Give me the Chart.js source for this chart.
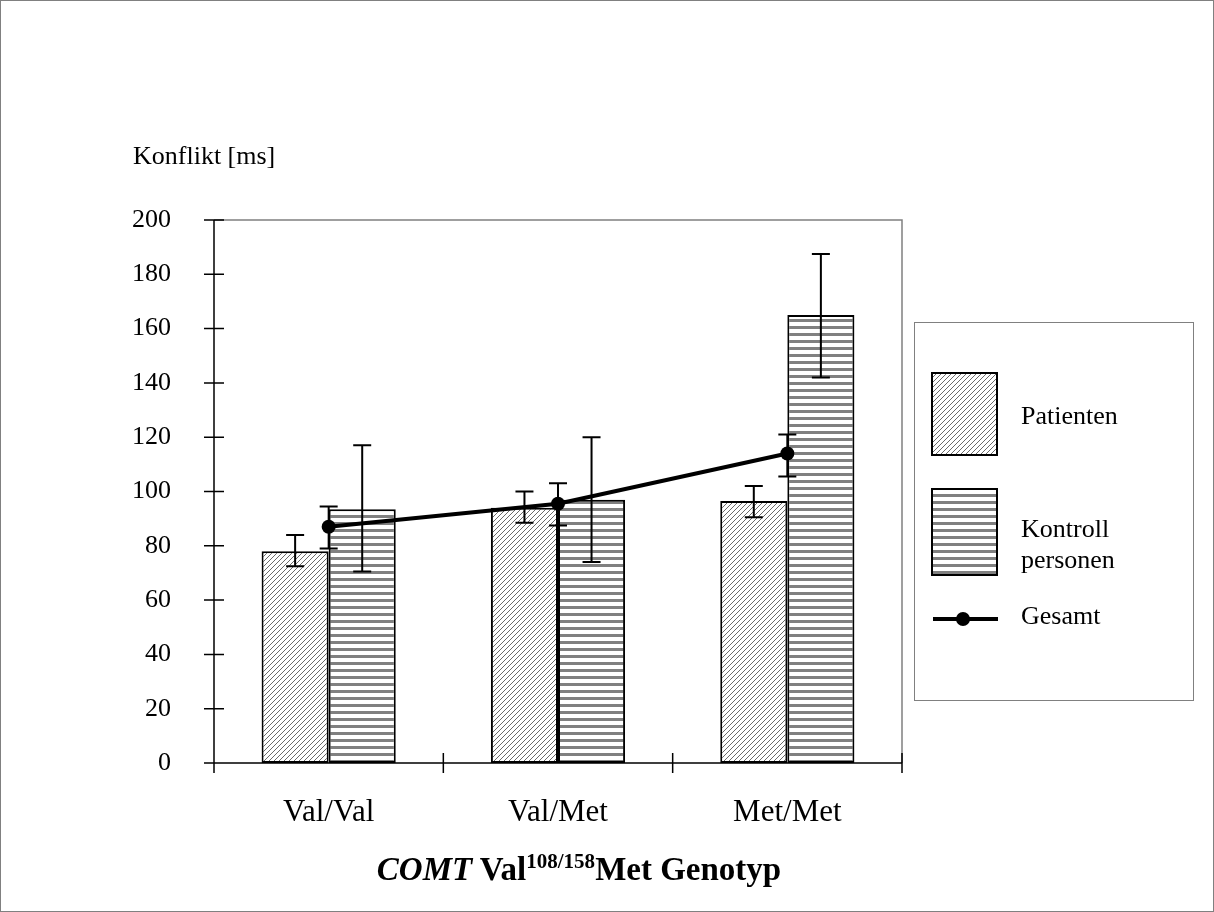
<!DOCTYPE html>
<html>
<head>
<meta charset="utf-8">
<script src="https://cdn.jsdelivr.net/npm/chart.js@4.4.0/dist/chart.umd.min.js"></script>
<style>
body { margin: 0; background: #fff; }
#wrap { position: relative; width: 1214px; height: 912px; }
#xtitle {
    position: absolute; left: 279px; width: 600px; top: 850px;
    text-align: center; font: bold 33px "Liberation Serif", serif; color: #000;
    line-height: 38px;
}
#xtitle sup { font-size: 21px; vertical-align: 0; position: relative; top: -12px; }
</style>
</head>
<body>
<div id="wrap">
<canvas id="chart" width="1214" height="912"></canvas>
<div id="xtitle"><i>COMT</i> Val<sup>108/158</sup>Met Genotyp</div>
</div>
<script>
const genotypes = ['Val/Val', 'Val/Met', 'Met/Met'];
const yTicks = [0, 20, 40, 60, 80, 100, 120, 140, 160, 180, 200];

const patienten = [78, 94, 96.5];
const patientenLow = [72.5, 88.5, 90.5];
const patientenHigh = [84, 100, 102];

const kontroll = [93.5, 97, 165];
const kontrollLow = [70.5, 74, 142];
const kontrollHigh = [117, 120, 187.5];

const gesamt = [87, 95.5, 114];
const gesamtLow = [79, 87.5, 105.5];
const gesamtHigh = [94.5, 103, 121];

const FONT = '"Liberation Serif", "Times New Roman", serif';

function hatchPattern(ctx) {
    const c = document.createElement('canvas');
    c.width = 5; c.height = 5;
    const g = c.getContext('2d');
    g.fillStyle = '#fff';
    g.fillRect(0, 0, 5, 5);
    g.strokeStyle = '#6a6a6a';
    g.lineWidth = 1;
    g.beginPath();
    g.moveTo(0, 5); g.lineTo(5, 0);
    g.moveTo(-1, 1); g.lineTo(1, -1);
    g.moveTo(4, 6); g.lineTo(6, 4);
    g.stroke();
    return ctx.createPattern(c, 'repeat');
}

function stripePattern(ctx) {
    const c = document.createElement('canvas');
    c.width = 4; c.height = 7;
    const g = c.getContext('2d');
    g.fillStyle = '#fff';
    g.fillRect(0, 0, 4, 7);
    g.fillStyle = '#808080';
    g.fillRect(0, 4, 4, 3);
    return ctx.createPattern(c, 'repeat');
}

const canvas = document.getElementById('chart');
const ctx = canvas.getContext('2d');
const hatch = hatchPattern(ctx);
const stripes = stripePattern(ctx);

function errBar(g, x, yLo, yHi, cap) {
    g.beginPath();
    g.moveTo(x, yLo); g.lineTo(x, yHi);
    g.moveTo(x - cap, yLo); g.lineTo(x + cap, yLo);
    g.moveTo(x - cap, yHi); g.lineTo(x + cap, yHi);
    g.stroke();
}

// axes frame, ticks, error bars, legend and y title
const decorations = {
    id: 'decorations',
    beforeDatasetsDraw(chart) {
        const g = chart.ctx;
        const a = chart.chartArea;
        const ys = chart.scales.y;
        g.save();
        g.strokeStyle = '#808080';
        g.lineWidth = 1.5;
        g.beginPath();
        g.moveTo(a.left, a.top); g.lineTo(a.right, a.top); g.lineTo(a.right, a.bottom);
        g.stroke();

        g.strokeStyle = '#000';
        g.lineWidth = 1.5;
        g.beginPath();
        g.moveTo(a.left, a.top); g.lineTo(a.left, a.bottom);
        g.moveTo(a.left - 10, a.bottom); g.lineTo(a.right, a.bottom);
        yTicks.forEach(v => {
            const py = ys.getPixelForValue(v);
            g.moveTo(a.left - 10, py); g.lineTo(a.left + 10, py);
        });
        const step = (a.right - a.left) / genotypes.length;
        for (let i = 0; i <= genotypes.length; i++) {
            const px = a.left + step * i;
            g.moveTo(px, a.bottom - 10); g.lineTo(px, a.bottom + 10);
        }
        g.stroke();
        g.restore();
    },
    afterDatasetsDraw(chart) {
        const g = chart.ctx;
        const ys = chart.scales.y;
        g.save();
        g.strokeStyle = '#000';
        g.lineWidth = 2;
        [[0, patientenLow, patientenHigh], [1, kontrollLow, kontrollHigh], [2, gesamtLow, gesamtHigh]]
            .forEach(([di, lo, hi]) => {
                chart.getDatasetMeta(di).data.forEach((el, i) => {
                    errBar(g, el.x, ys.getPixelForValue(lo[i]), ys.getPixelForValue(hi[i]), 9);
                });
            });
        g.restore();
    },
    afterDraw(chart) {
        const g = chart.ctx;
        g.save();
        // outer border
        g.strokeStyle = '#808080';
        g.lineWidth = 1;
        g.strokeRect(0.5, 0.5, chart.width - 1, chart.height - 1);

        // y title
        g.fillStyle = '#000';
        g.font = '26px ' + FONT;
        g.textBaseline = 'middle';
        g.fillText('Konflikt [ms]', 133, 157);

        // legend
        g.strokeStyle = '#808080';
        g.strokeRect(914.5, 322.5, 279, 378);
        g.lineWidth = 2;
        g.strokeStyle = '#000';
        g.fillStyle = hatch;
        g.fillRect(932, 373, 65, 82);
        g.strokeRect(932, 373, 65, 82);
        g.fillStyle = stripes;
        g.fillRect(932, 489, 65, 86);
        g.strokeRect(932, 489, 65, 86);
        g.lineWidth = 4;
        g.beginPath();
        g.moveTo(933, 619); g.lineTo(998, 619);
        g.stroke();
        g.fillStyle = '#000';
        g.beginPath();
        g.arc(963, 619, 7, 0, Math.PI * 2);
        g.fill();

        g.fillText('Patienten', 1021, 417);
        g.fillText('Kontroll', 1021, 530);
        g.fillText('personen', 1021, 561);
        g.fillText('Gesamt', 1021, 617);
        g.restore();
    }
};

new Chart(ctx, {
    type: 'bar',
    data: {
        labels: genotypes,
        datasets: [
            {
                label: 'Patienten',
                data: patienten,
                backgroundColor: hatch,
                borderColor: '#000',
                borderWidth: 2,
                borderSkipped: false,
                categoryPercentage: 0.585,
                barPercentage: 1.0,
                order: 2
            },
            {
                label: 'Kontroll personen',
                data: kontroll,
                backgroundColor: stripes,
                borderColor: '#000',
                borderWidth: 2,
                borderSkipped: false,
                categoryPercentage: 0.585,
                barPercentage: 1.0,
                order: 2
            },
            {
                type: 'line',
                label: 'Gesamt',
                data: gesamt,
                borderColor: '#000',
                backgroundColor: '#000',
                borderWidth: 4,
                pointRadius: 7,
                pointBackgroundColor: '#000',
                pointBorderWidth: 0,
                tension: 0,
                fill: false,
                order: 1
            }
        ]
    },
    options: {
        responsive: false,
        animation: false,
        layout: { padding: { top: 220, right: 312, left: 0, bottom: 0 } },
        plugins: {
            legend: { display: false },
            tooltip: { enabled: false }
        },
        scales: {
            x: {
                grid: { display: false },
                border: { display: false },
                ticks: { color: '#000', font: { family: FONT, size: 31 }, padding: 23 },
                afterFit: s => { s.height = 149; }
            },
            y: {
                min: 0,
                max: 200,
                grid: { display: false },
                border: { display: false },
                afterBuildTicks: s => { s.ticks = yTicks.map(v => ({ value: v })); },
                ticks: { color: '#000', font: { family: FONT, size: 26 }, padding: 35 },
                afterFit: s => { s.width = 214; }
            }
        }
    },
    plugins: [decorations]
});
</script>
</body>
</html>
